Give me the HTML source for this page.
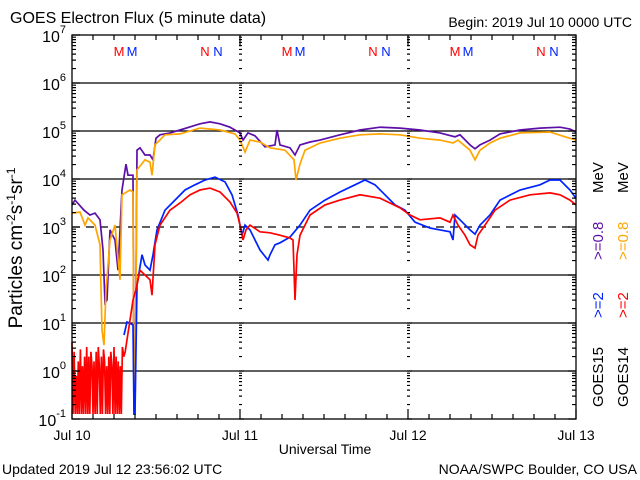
<!DOCTYPE html>
<html><head><meta charset="utf-8"><style>
body{margin:0;background:#fff}
svg{display:block;font-family:"Liberation Sans",sans-serif}
</style></head><body>
<svg id="chart" width="640" height="480" viewBox="0 0 640 480" xmlns="http://www.w3.org/2000/svg">
<rect x="0" y="0" width="640" height="480" fill="#fff"/>
<text x="10" y="23" font-size="16">GOES Electron Flux (5 minute data)</text>
<text x="632" y="27" font-size="14" text-anchor="end">Begin: 2019 Jul 10 0000 UTC</text>
<text x="325" y="454" font-size="14" text-anchor="middle">Universal Time</text>
<text x="2" y="474" font-size="14">Updated 2019 Jul 12 23:56:02 UTC</text>
<text x="637" y="474" font-size="14" text-anchor="end">NOAA/SWPC Boulder, CO USA</text>
<text transform="translate(22,248) rotate(-90)" font-size="19" text-anchor="middle">Particles cm<tspan dy="-7" font-size="12">-2</tspan><tspan dy="7">s</tspan><tspan dy="-7" font-size="12">-1</tspan><tspan dy="7">sr</tspan><tspan dy="-7" font-size="12">-1</tspan></text>
<g id="grid"></g><g id="series"></g><g id="axes"></g><g id="labels"></g>
<g font-size="15">
<text transform="translate(603,407) rotate(-90)">GOES15</text>
<text transform="translate(603,318) rotate(-90)" fill="#0022ff">&gt;=2</text>
<text transform="translate(603,260) rotate(-90)" fill="#5b0fa8">&gt;=0.8</text>
<text transform="translate(603,193) rotate(-90)">MeV</text>
<text transform="translate(628,407) rotate(-90)">GOES14</text>
<text transform="translate(628,318) rotate(-90)" fill="#ff0000">&gt;=2</text>
<text transform="translate(628,260) rotate(-90)" fill="#ffa500">&gt;=0.8</text>
<text transform="translate(628,193) rotate(-90)">MeV</text>
</g>
</svg>
<script>
const decades = [-1,0,1,2,3,4,5,6,7];
const dayLabels = ["Jul 10","Jul 11","Jul 12","Jul 13"];
const purpleH = [0,.43,1.71,2.57,3.29,4,4.43,4.71,5,5.43,6.14,6.57,7.14,7.71,8,8.71,8.86,9,9.29,9.71,10.43,11.14,11.57,12,12.57,14,15.43,18.29,19.71,21.14,22.57,24,24.43,25.14,26.14,27.57,29,29.29,29.71,31.14,31.86,32.57,34,35.43,38.29,41.14,44,46.86,49.71,52.57,54.71,55.43,56.86,57.57,58.29,59.71,61.14,64,66.86,69.71,71.14,72];
const purpleV = [3.46,3.56,3.35,3.25,3.29,3.15,2.52,1.42,1.48,2.94,2.73,2.10,3.77,4.31,4.08,4.08,-0.9,-0.9,4.60,4.65,4.5,4.5,4.40,4.85,4.92,4.96,5.02,5.15,5.19,5.15,5.08,4.96,4.81,4.96,4.90,4.67,4.71,5.02,4.71,4.65,4.5,4.71,4.77,4.81,4.92,5.02,5.08,5.06,5.02,4.96,4.88,4.92,4.71,4.63,4.71,4.81,4.94,5.02,5.06,5.08,5.04,4.98];
const orangeH = [0,1.14,1.86,2.29,3.29,4,4.29,4.57,4.86,5.43,6.14,6.86,7.14,8.29,8.71,8.86,9,9.29,10.43,11.14,11.43,11.86,13.29,15.43,18.29,21.14,23.29,24,24.71,25.43,26.86,28.29,30.43,31.71,32,32.57,33.29,35.43,38.29,41.14,44,46.86,49.71,52.57,54.43,55.14,56.86,57.57,58.29,59.71,61.14,64,68.29,70.43,72];
const orangeV = [3.29,3.31,3.04,3.19,3.04,2.63,0.85,0.54,1.69,2.73,3.04,1.90,3.67,3.77,3.73,-0.9,-0.9,4.19,4.40,4.35,4.08,4.71,4.92,4.94,5.06,5.02,4.94,4.81,4.56,4.81,4.77,4.65,4.60,4.40,3.98,4.31,4.60,4.75,4.85,4.92,4.94,4.92,4.85,4.81,4.75,4.81,4.60,4.40,4.60,4.75,4.85,4.96,4.98,4.88,4.81];
const blueH = [7.43,7.86,8.71,8.86,9,9.29,10,10.43,11.14,11.57,12.14,13.29,14.71,16.14,17.57,19,20.43,21.86,22.86,23.71,24.29,24.71,25.43,26.86,28,28.29,29,29.71,31.14,32.57,34,36.14,38.29,40.43,41.86,43.29,44.71,46.14,47.57,49,51.14,52.57,54,54.43,54.71,55.43,56.86,57.57,58.29,59.71,61.14,64,66.86,68.29,69.71,71.14,72];
const blueV = [0.75,1.02,0.96,-0.9,-0.9,1.79,2.42,2.21,2.10,2.42,2.94,3.35,3.56,3.77,3.88,3.98,4.04,3.94,3.67,3.25,2.83,3.04,2.94,2.52,2.31,2.42,2.63,2.67,2.79,3.04,3.35,3.56,3.73,3.88,3.98,3.88,3.67,3.46,3.35,3.10,2.98,2.94,2.90,2.73,3.25,3.15,2.94,2.85,3.04,3.25,3.56,3.77,3.88,3.98,3.98,3.77,3.60];
const redH = [0,.15,.3,.45,.6,.75,.9,1.05,1.2,1.35,1.5,1.65,1.8,1.95,2.1,2.25,2.4,2.55,2.7,2.85,3,3.15,3.3,3.45,3.6,3.75,3.9,4.05,4.2,4.35,4.5,4.65,4.8,4.95,5.1,5.25,5.4,5.55,5.7,5.85,6,6.15,6.3,6.45,6.6,6.75,6.9,7.05,7.2,7.4,7.6,7.86,8.29,8.71,9.14,9.71,10.43,11.14,11.43,11.86,12.57,14,15.43,16.86,18.29,19.71,21.14,22.57,23.57,24,24.43,24.86,25.43,26.86,28.29,29.71,31.14,31.57,31.86,32.14,32.57,34,36.14,38.29,41.14,44,46.86,48.29,49.71,52.57,54,54.43,55.14,56.14,56.86,57.57,58,59,60.43,62.57,65.43,68.29,69.71,71.14,72];
const redV = [0.6,-0.9,0.4,-0.9,-0.1,-0.9,0.2,-0.9,0.45,-0.9,0.1,-0.9,0.3,-0.9,0.5,-0.9,0.3,-0.9,0.4,0.1,-0.9,0.2,-0.9,0.4,-0.9,0.5,0.1,-0.9,0.3,-0.9,0.45,0.2,-0.9,0.1,-0.9,0.3,-0.9,0.4,0.1,-0.9,0.5,-0.9,0.3,-0.9,0.2,-0.9,0.1,-0.9,0.5,0.3,0.4,0.65,1.06,1.48,1.69,2.10,2.0,1.90,1.58,2.63,3.04,3.35,3.5,3.67,3.77,3.81,3.73,3.52,3.29,3.04,2.73,2.94,3.04,2.90,2.88,2.83,2.77,2.73,1.48,2.42,2.83,3.25,3.46,3.56,3.67,3.60,3.40,3.25,3.15,3.19,3.10,3.25,3.04,2.83,2.63,2.56,2.83,3.04,3.35,3.56,3.67,3.71,3.67,3.56,3.46];
const markerLabels = ["M","M","N","N"];

const NS="http://www.w3.org/2000/svg";
const L=72,R=576,T=35,B=419;
const xs=h=>L+h*(R-L)/72;
const ys=v=>371-v*48;
function mk(parent,tag,attrs){const e=document.createElementNS(NS,tag);for(const k in attrs)e.setAttribute(k,attrs[k]);document.getElementById(parent).appendChild(e);return e;}

decades.forEach(d=>{
  if(d===-1||d===7)return;
  const g=mk('grid','line',{x1:L,x2:R,y1:ys(d),y2:ys(d),stroke:'#000','stroke-width':1.3});
  
  
  if(d===3)g.setAttribute('stroke-dasharray','8,6');
});

function series(H,V,color,name){
  const pts=H.map((h,i)=>xs(h).toFixed(1)+','+Math.min(ys(V[i]),414).toFixed(1)).join(' ');
  const p=mk('series','polyline',{points:pts,fill:'none',stroke:color,'stroke-width':1.7,'stroke-linejoin':'miter'});
  
  
}
series(purpleH,purpleV,'#5b0fa8','goes15-08mev-line');
series(orangeH,orangeV,'#ffa500','goes14-08mev-line');
series(blueH,blueV,'#0022ff','goes15-2mev-line');
series(redH,redV,'#ff0000','goes14-2mev-line');

const frame=mk('axes','rect',{x:L,y:T,width:R-L,height:B-T,fill:'none',stroke:'#000','stroke-width':1.3});


let tk='';
for(let d=-1;d<7;d++){
  for(let m=1;m<10;m++){
    const y=ys(d+Math.log10(m));const len=m===1?8:4;
    tk+=`M${L},${y}h${len}M${R},${y}h${-len}`;
    [xs(24),xs(48)].forEach(x=>{tk+=`M${x-1},${y}h${m===1?5:3}`;});
  }
}
tk+=`M${L},${T}h8M${R},${T}h-8`;
for(let h=0;h<=72;h+=3){const x=xs(h);const len=h%24===0?10:5;tk+=`M${x},${B}v${-len}M${x},${T}v${len}`;}
const tp=mk('axes','path',{d:tk,stroke:'#000','stroke-width':1.2,fill:'none'});



decades.forEach(d=>{
  const t=mk('labels','text',{x:66,y:ys(d)+7,'font-size':16,'text-anchor':'end'});
  
  
  t.innerHTML='10<tspan dy="-9" font-size="11">'+d+'</tspan>';
});
dayLabels.forEach((s,i)=>{
  const t=mk('labels','text',{x:xs(i*24),y:440,'font-size':14,'text-anchor':'middle'});
  
  
  t.textContent=s;
});
const mOff=[47,60,133,146];
for(let d=0;d<3;d++){
  markerLabels.forEach((s,i)=>{
    const t=mk('labels','text',{x:L+d*168+mOff[i],y:56,'font-size':13,'text-anchor':'middle',fill:i%2?'#0022ff':'#ff0000'});
    
    
    t.textContent=s;
  });
}
</script>
</body></html>
